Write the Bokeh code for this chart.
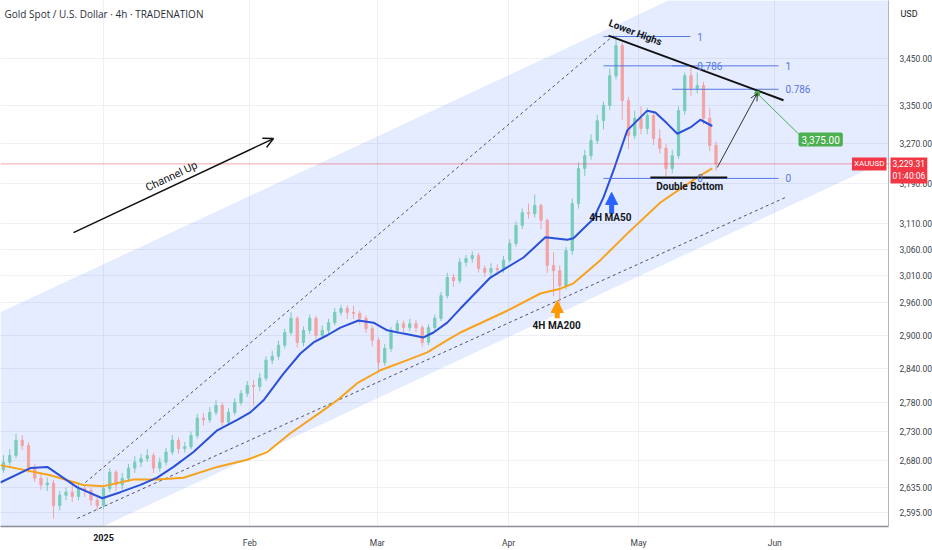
from bokeh.plotting import figure
from bokeh.models import (Range1d, FixedTicker, NumeralTickFormatter, Label, Span,
                          Arrow, OpenHead, NormalHead)
from bokeh.embed import file_html
from bokeh.resources import INLINE

# ---------------- data ----------------
title = "Gold Spot / U.S. Dollar \u00b7 4h \u00b7 TRADENATION"

# trading-day index (0 = first trading day of 2025)
first_open = 2665.0
day_idx = list(range(-16, 99))
close = [2678, 2689, 2715, 2706, 2668, 2651, 2640, 2643, 2606, 2623, 2628, 2621, 2634, 2631, 2615, 2606,
         2634, 2661, 2640, 2651, 2668, 2678, 2684, 2689, 2668, 2678,
         2695, 2715, 2701, 2704, 2723, 2753, 2750, 2763, 2775, 2746,
         2763, 2780, 2796, 2810, 2808, 2823, 2855, 2862, 2882, 2905,
         2931, 2887, 2909, 2931, 2900, 2909, 2923, 2942, 2949, 2942,
         2940, 2931, 2912, 2891, 2851, 2876, 2909, 2921, 2914, 2921,
         2914, 2887, 2914, 2931, 2973, 3007, 3001, 3036, 3043, 3049,
         3024, 3017, 3024, 3022, 3040, 3072, 3107, 3132, 3130, 3146,
         3117, 3030, 3020, 2992, 3058, 3150, 3220, 3246, 3277, 3318,
         3350, 3413, 3478, 3360, 3287, 3323, 3302, 3329, 3281, 3261,
         3220, 3246, 3339, 3413, 3386, 3392, 3323, 3267, 3229.31]
high = [2690, 2700, 2726, 2724, 2712, 2675, 2658, 2652, 2648, 2630, 2636, 2640, 2642, 2640, 2636, 2620,
        2640, 2668, 2665, 2660, 2675, 2688, 2692, 2700, 2694, 2686,
        2702, 2724, 2720, 2712, 2730, 2760, 2762, 2772, 2785, 2780,
        2770, 2788, 2802, 2818, 2820, 2832, 2862, 2872, 2890, 2912,
        2942, 2935, 2916, 2938, 2936, 2918, 2930, 2950, 2956, 2955,
        2954, 2945, 2936, 2918, 2896, 2884, 2915, 2928, 2927, 2930,
        2928, 2918, 2920, 2938, 2980, 3016, 3014, 3044, 3050, 3057,
        3054, 3030, 3034, 3032, 3048, 3080, 3115, 3140, 3150, 3168,
        3150, 3120, 3055, 3030, 3065, 3160, 3232, 3258, 3290, 3330,
        3358, 3428, 3500, 3485, 3368, 3340, 3348, 3345, 3335, 3300,
        3270, 3258, 3348, 3420, 3433, 3420, 3400, 3345, 3275]
low = [2660, 2672, 2684, 2698, 2660, 2645, 2632, 2630, 2585, 2598, 2615, 2612, 2615, 2620, 2606, 2598,
       2600, 2628, 2630, 2632, 2645, 2660, 2670, 2678, 2660, 2662,
       2672, 2690, 2692, 2694, 2700, 2718, 2740, 2745, 2758, 2740,
       2742, 2758, 2775, 2790, 2775, 2800, 2818, 2848, 2856, 2876,
       2900, 2878, 2880, 2902, 2892, 2895, 2902, 2918, 2936, 2930,
       2930, 2920, 2904, 2880, 2833, 2845, 2870, 2902, 2905, 2908,
       2906, 2880, 2882, 2908, 2926, 2968, 2990, 2996, 3028, 3035,
       3016, 3008, 3010, 3012, 3016, 3035, 3066, 3100, 3120, 3122,
       3100, 3015, 2972, 2956, 2985, 3050, 3140, 3205, 3238, 3270,
       3300, 3340, 3405, 3320, 3260, 3280, 3290, 3290, 3268, 3250,
       3204, 3210, 3240, 3330, 3370, 3375, 3310, 3255, 3215]
open_ = [first_open] + close[:-1]

ma50_x = [-16.5, -11.7, -9.0, -4.2, -0.2, 2.7, 5.9, 8.6, 11.2, 14.4, 18.2, 21.4, 23.5, 25.6, 28.8,
          31.5, 33.6, 35.8, 37.9, 40.8, 43.2, 45.4, 48.0, 51.2, 52.8, 55.0, 57.1, 61.9, 67.2, 70.7,
          74.2, 75.2, 78.4, 80.0, 81.6, 83.8, 87.0, 88.3, 90.2, 91.8, 93.9, 95.5, 97.4]
ma50 = [2644, 2668, 2670, 2636, 2618, 2628, 2640, 2652, 2670, 2695, 2732, 2750, 2763, 2784, 2831,
        2867, 2887, 2900, 2914, 2927, 2923, 2909, 2903, 2896, 2905, 2923, 2949, 3007, 3045, 3084,
        3079, 3082, 3120, 3162, 3216, 3298, 3339, 3335, 3312, 3291, 3304, 3320, 3307]
ma200_x = [-16.5, -8.5, -3.2, 0.0, 4.8, 8.6, 12.8, 18.2, 23.0, 26.2, 29.9, 34.7, 37.4, 40.6,
           44.3, 48.6, 51.8, 55.0, 57.1, 64.6, 69.9, 73.1, 75.2, 79.5, 83.8, 89.1, 95.0, 97.4]
ma200 = [2673, 2656, 2640, 2638, 2649, 2649, 2652, 2670, 2682, 2695, 2727, 2763, 2784, 2814,
         2837, 2855, 2869, 2891, 2905, 2945, 2977, 2986, 2996, 3040, 3091, 3152, 3202, 3220]

price_ticks = [2595, 2635, 2680, 2730, 2780, 2840, 2900, 2960, 3010, 3060, 3110, 3190, 3270, 3350, 3450]
month_pos = [0, 23.4, 43.8, 64.8, 85.6, 107.4]
month_labels = ["2025", "Feb", "Mar", "Apr", "May", "Jun"]

last_price = 3229.31
countdown = "01:40:06"
target_price = 3375.00

# drawing anchors (day index, price)
channel_x = [-16.5, 126.3]
channel_top = [2942, 3821]
channel_bot = [2496, 3242]
dash_up_x, dash_up_y = [-2.9, 81.6], [2644, 3500]
dash_lo_x, dash_lo_y = [-4.2, 109.1], [2585, 3162]
lh_x, lh_y = [80.8, 108.8], [3500, 3361]
fib_levels = [0, 0.786, 1]
fibA_x, fibA_lo, fibA_hi = [80.0, 93.9], 3200, 3498
fibB_x, fibB_lo = [91.0, 108.0], 3200
db_x, db_y = [87.5, 99.8], 3202
proj_from = (98.2, 3222)
proj_to = (104.6, target_price)
tgt_label_pos = (111.2, 3279)
chan_arrow = ((-4.8, 3093), (27.2, 3281))

X0, X1 = -16.48, 125.6
Y0, Y1 = 2572, 3578

UP, DOWN = "#79ccb9", "#f2a3a3"
BLUE_MA, ORANGE_MA = "#2a4fd9", "#f7a21b"
FIB = "#5677e0"
RED = "#f23645"
GREEN = "#4caf50"
FONT = "Roboto"

p = figure(frame_width=888, frame_height=526, x_range=Range1d(X0, X1), y_range=Range1d(Y0, Y1),
           y_axis_type="log", y_axis_location="right", output_backend="svg",
           toolbar_location=None, min_border_left=0, min_border_top=0,
           min_border_right=0, min_border_bottom=0, outline_line_color=None,
           background_fill_color="white", border_fill_color="white")

# axes
p.yaxis.ticker = FixedTicker(ticks=price_ticks)
p.yaxis.formatter = NumeralTickFormatter(format="0,0.00")
p.xaxis.ticker = FixedTicker(ticks=month_pos)
overrides = {m: l for m, l in zip(month_pos, month_labels)}
overrides[month_pos[0]] = ""          # year label drawn in bold below
p.xaxis.major_label_overrides = overrides
for ax in (p.xaxis[0], p.yaxis[0]):
    ax.major_tick_line_color = None
    ax.minor_tick_line_color = None
    ax.major_label_text_font = FONT
    ax.major_label_text_font_size = "8.5px"
    ax.major_label_text_color = "#3b3f4a"
    ax.major_label_standoff = 5
p.yaxis.axis_line_color = "#b2b5be"
p.xaxis.axis_line_color = "#8a8d96"
p.xaxis.axis_line_width = 1.5
p.ygrid.ticker = FixedTicker(ticks=price_ticks)
p.xgrid.ticker = FixedTicker(ticks=month_pos)
p.grid.grid_line_color = "#eef0f4"

# channel shading
p.patch(channel_x + channel_x[::-1], channel_top + channel_bot[::-1],
        fill_color="#2962ff", fill_alpha=0.12, line_alpha=0)

# dashed channel lines
p.line(dash_up_x, dash_up_y, line_color="#50535e", line_dash="3 3", line_width=1)
p.line(dash_lo_x, dash_lo_y, line_color="#50535e", line_dash="3 3", line_width=1)

# candles
inc = [c >= o for o, c in zip(open_, close)]
cols = [UP if i else DOWN for i in inc]
tops = [max(o, c) for o, c in zip(open_, close)]
bots = [min(o, c) for o, c in zip(open_, close)]
p.segment(x0=day_idx, y0=low, x1=day_idx, y1=high, line_color=cols, line_width=1)
p.vbar(x=day_idx, width=0.36, top=tops, bottom=bots, fill_color=cols, line_color=cols)

# moving averages
p.line(ma200_x, ma200, line_color=ORANGE_MA, line_width=2)
p.line(ma50_x, ma50, line_color=BLUE_MA, line_width=2)

# price line
p.add_layout(Span(location=last_price, dimension="width", line_color=RED, line_alpha=0.45, line_width=1))

# fibonacci retracements
for lv in fib_levels:
    pa = fibA_lo + lv * (fibA_hi - fibA_lo)
    p.line(fibA_x, [pa, pa], line_color=FIB, line_width=1)
    p.add_layout(Label(x=fibA_x[1] + 1.1, y=pa, text=("%g" % lv), text_font=FONT,
                       text_font_size="10px", text_color=FIB, text_baseline="middle"))
fibB_hi = fibA_lo + 0.786 * (fibA_hi - fibA_lo)
for lv in fib_levels:
    pb = fibB_lo + lv * (fibB_hi - fibB_lo)
    p.line(fibB_x, [pb, pb], line_color=FIB, line_width=1)
    p.add_layout(Label(x=fibB_x[1] + 1.1, y=pb, text=("%g" % lv), text_font=FONT,
                       text_font_size="10px", text_color=FIB, text_baseline="middle"))

# lower highs trend line
p.line(lh_x, lh_y, line_color="#111111", line_width=2)
p.add_layout(Label(x=85.1, y=3507, text="Lower Highs", angle=-0.36, text_font=FONT,
                   text_font_size="10px", text_font_style="bold", text_color="#131722",
                   text_align="center", text_baseline="middle"))

# double bottom
p.line(db_x, [db_y, db_y], line_color="#111111", line_width=2)
p.add_layout(Label(x=93.8, y=3184, text="Double Bottom", text_font=FONT,
                   text_font_size="10px", text_font_style="bold", text_color="#131722",
                   text_align="center", text_baseline="middle"))

# projection arrow + target
p.add_layout(Arrow(end=OpenHead(size=7, line_color="#333333", line_width=1),
                   x_start=proj_from[0], y_start=proj_from[1], x_end=proj_to[0], y_end=proj_to[1],
                   line_color="#333333", line_width=1))
p.line([proj_to[0], tgt_label_pos[0] + 0.3], [proj_to[1], 3287], line_color=GREEN, line_width=1)
p.scatter([proj_to[0]], [proj_to[1]], size=5, color=GREEN)
p.add_layout(Label(x=tgt_label_pos[0], y=tgt_label_pos[1], text="{:,.2f}".format(target_price),
                   text_font=FONT, text_font_size="10px", text_color="white",
                   background_fill_color=GREEN, padding=3, border_radius=2,
                   text_align="left", text_baseline="middle"))

# channel up arrow
p.add_layout(Arrow(end=OpenHead(size=10, line_color="#111111", line_width=1.5),
                   x_start=chan_arrow[0][0], y_start=chan_arrow[0][1],
                   x_end=chan_arrow[1][0], y_end=chan_arrow[1][1],
                   line_color="#111111", line_width=1.5))
p.add_layout(Label(x=10.9, y=3204, text="Channel Up", angle=0.44, text_font=FONT,
                   text_font_size="11px", text_color="#131722",
                   text_align="center", text_baseline="middle"))

# MA markers
p.add_layout(Arrow(end=NormalHead(size=12, fill_color="#2962ff", line_color="#2962ff"),
                   x_start=81.3, y_start=3130, x_end=81.3, y_end=3172,
                   line_color="#2962ff", line_width=5))
p.add_layout(Label(x=81.1, y=3122, text="4H MA50", text_font=FONT, text_font_size="10px",
                   text_font_style="bold", text_color="#131722", text_align="center",
                   text_baseline="middle"))
p.add_layout(Arrow(end=NormalHead(size=12, fill_color="#ff9800", line_color="#ff9800"),
                   x_start=72.6, y_start=2931, x_end=72.6, y_end=2964,
                   line_color="#ff9800", line_width=5))
p.add_layout(Label(x=72.5, y=2918, text="4H MA200", text_font=FONT, text_font_size="10px",
                   text_font_style="bold", text_color="#131722", text_align="center",
                   text_baseline="middle"))

# header / price labels
p.add_layout(Label(x=X0, y=3547, x_offset=4, text=title, text_font="Open Sans",
                   text_font_size="10px", text_color="#2a2e39", text_baseline="middle"))
p.add_layout(Label(x=X1, y=last_price, x_offset=-2, text="XAUUSD", text_font=FONT,
                   text_font_size="8px", text_color="white", background_fill_color=RED,
                   padding=2, text_align="right", text_baseline="middle"))
p.add_layout(Label(x=X1, y=3547, x_offset=12, text="USD", text_font=FONT,
                   text_font_size="9px", text_color="#131722", text_baseline="middle"), "right")
p.add_layout(Label(x=X1, y=3216, x_offset=2, text="{:,.2f}\n{}".format(last_price, countdown),
                   text_font=FONT, text_font_size="8.5px", text_color="white",
                   background_fill_color=RED, padding=2, text_align="left",
                   text_baseline="middle"), "right")
p.add_layout(Label(x=month_pos[0], y=Y0, y_offset=-11, text=month_labels[0], text_font=FONT,
                   text_font_size="9px", text_font_style="bold", text_color="#131722",
                   text_align="center", text_baseline="middle"), "below")

open("out.html", "w").write(file_html(p, INLINE))
